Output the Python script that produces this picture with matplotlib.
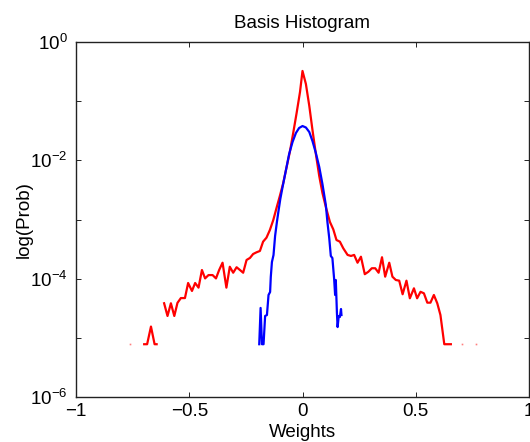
import numpy as np
import matplotlib
matplotlib.use("Agg")
import matplotlib.pyplot as plt
from matplotlib.ticker import FixedLocator, NullFormatter

plt.rcParams['font.family'] = ['Liberation Sans', 'DejaVu Sans']
plt.rcParams['mathtext.fontset'] = 'custom'
plt.rcParams['mathtext.rm'] = 'Liberation Sans'
plt.rcParams['mathtext.it'] = 'Liberation Sans:italic'

nan = np.nan

# red histogram (NaN = empty bins, log of zero)
red_x = [-0.699, -0.686, -0.669, -0.653, -0.644, -0.63,
         -0.611, -0.596, -0.581, -0.566, -0.552, -0.537, -0.519, -0.505, -0.488, -0.474,
         -0.459, -0.444, -0.430, -0.415, -0.397, -0.382, -0.368, -0.353, -0.336, -0.321,
         -0.306, -0.291, -0.276, -0.262, -0.247, -0.232, -0.218, -0.203, -0.188, -0.174,
         -0.159, -0.144, -0.129, -0.115, -0.100, -0.085, -0.071, -0.056, -0.041, -0.026,
         -0.011, 0.0, 0.015, 0.030, 0.044, 0.059, 0.074, 0.088, 0.103, 0.121,
         0.136, 0.150, 0.165, 0.180, 0.199, 0.214, 0.228, 0.243, 0.258, 0.275,
         0.291, 0.306, 0.321, 0.336, 0.351, 0.365, 0.383, 0.397, 0.412, 0.427,
         0.442, 0.459, 0.474, 0.492, 0.506, 0.521, 0.536, 0.551, 0.565, 0.580,
         0.595, 0.609, 0.626, 0.640, 0.655]
red_p = [7.8e-6, 7.8e-6, 1.55e-5, 7.8e-6, 7.8e-6, nan,
         3.84e-5, 2.34e-5, 3.84e-5, 2.34e-5, 3.9e-5, 4.7e-5, 4.7e-5, 8.45e-5, 6.2e-5, 8.45e-5,
         7.05e-5, 1.40e-4, 1.01e-4, 1.15e-4, 1.15e-4, 1.01e-4, 1.40e-4, 1.86e-4, 7.05e-5, 1.59e-4,
         1.26e-4, 1.56e-4, 1.40e-4, 1.26e-4, 2.07e-4, 2.24e-4, 2.61e-4, 2.79e-4, 2.94e-4, 4.22e-4,
         4.93e-4, 6.65e-4, 9.8e-4, 1.55e-3, 2.50e-3, 4.14e-3, 7.43e-3, 1.38e-2, 2.90e-2, 6.3e-2,
         0.143, 0.324, 0.195, 8.3e-2, 3.26e-2, 1.28e-2, 5.4e-3, 2.81e-3, 1.63e-3, 9.1e-4,
         6.8e-4, 4.5e-4, 4.22e-4, 3.26e-4, 2.52e-4, 2.42e-4, 2.52e-4, 1.86e-4, 2.35e-4, 1.19e-4,
         1.31e-4, 1.50e-4, 1.50e-4, 1.26e-4, 2.30e-4, 1.08e-4, 1.86e-4, 1.08e-4, 9.5e-5, 9.25e-5,
         5.45e-5, 9.25e-5, 4.66e-5, 6.87e-5, 4.66e-5, 6.0e-5, 5.66e-5, 3.93e-5, 3.93e-5, 5.3e-5,
         3.84e-5, 2.43e-5, 7.8e-6, 7.8e-6, 7.8e-6]

# single non-empty bins surrounded by empty ones
red_dot_x = [-0.761, 0.704, 0.766]
red_dot_p = [7.8e-6, 7.8e-6, 7.8e-6]

# blue histogram
blue_x = [-0.191, -0.185, -0.179, -0.172, -0.165, -0.157, -0.150, -0.143, -0.140, -0.135,
          -0.128, -0.121, -0.113, -0.106, -0.098, -0.088, -0.073, -0.059, -0.044, -0.029,
          -0.015, 0.0, 0.015, 0.030, 0.044, 0.059, 0.074, 0.088, 0.103, 0.110,
          0.118, 0.125, 0.132, 0.140, 0.144, 0.147, 0.152, 0.155, 0.160, 0.165,
          0.170, 0.172]
blue_p = [7.8e-6, 3.2e-5, 7.8e-6, 7.8e-6, 2.34e-5, 2.43e-5, 5.3e-5, 5.96e-5, 1.07e-4, 1.91e-4,
          2.51e-4, 5.26e-4, 9.08e-4, 1.39e-3, 2.22e-3, 3.54e-3, 6.87e-3, 1.28e-2, 2.04e-2, 2.90e-2,
          3.52e-2, 3.80e-2, 3.59e-2, 3.01e-2, 2.12e-2, 1.33e-2, 7.71e-3, 3.98e-3, 1.76e-3, 9.08e-4,
          4.87e-4, 2.42e-4, 2.23e-4, 9.5e-5, 5.3e-5, 9.5e-5, 2.63e-5, 1.52e-5, 2.34e-5, 2.25e-5,
          3.07e-5, 2.43e-5]

x_ticks = [-1, -0.5, 0, 0.5, 1]
x_tick_labels = ['\u22121', '\u22120.5', '0', '0.5', '1']
y_ticks = [1e-6, 1e-4, 1e-2, 1e0]
y_tick_labels = [r'$10^{-6}$', r'$10^{-4}$', r'$10^{-2}$', r'$10^{0}$']
y_minor = [1e-5, 1e-3, 1e-1]

fig = plt.figure(figsize=(5.3, 4.42), dpi=100)
ax = fig.add_axes([76 / 530, 45 / 442, 453 / 530, 355 / 442])

ax.plot(red_x, red_p, color='#ff0000', lw=1.6)
ax.plot(red_dot_x, red_dot_p, ls='none', marker='s', ms=1.2, mew=0, color='#ff0000', alpha=0.5)
ax.plot(blue_x, blue_p, color='#0000ff', lw=1.6)

ax.set_yscale('log')
ax.set_xlim(-1, 1)
ax.set_ylim(1e-6, 1)
ax.set_xticks(x_ticks)
ax.set_xticklabels(x_tick_labels)
ax.set_yticks(y_ticks)
ax.set_yticklabels(y_tick_labels)
ax.yaxis.set_minor_locator(FixedLocator(y_minor))
ax.yaxis.set_minor_formatter(NullFormatter())

ax.tick_params(which='both', direction='in', top=True, right=True, length=3.5, width=0.6,
               labelsize=13.5)
ax.tick_params(axis='x', pad=4)
ax.tick_params(axis='y', pad=6)
for s in ax.spines.values():
    s.set_linewidth(1.0)
    s.set_color('#222222')

ax.set_title('Basis Histogram', fontsize=13.5, pad=10)
ax.set_xlabel('Weights', fontsize=13.5, labelpad=3)
ax.set_ylabel('log(Prob)', fontsize=13.5, labelpad=-2)

fig.savefig('out.png', dpi=100)
